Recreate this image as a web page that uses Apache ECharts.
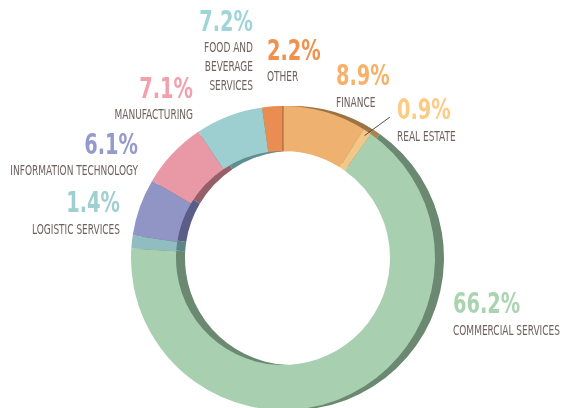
<!DOCTYPE html>
<html>
<head>
<meta charset="utf-8">
<script src="https://cdn.jsdelivr.net/npm/echarts@6/dist/echarts.min.js"></script>
<style>html,body{margin:0;padding:0;background:#fff}#c{width:564px;height:408px}</style>
</head>
<body>
<div id="c"></div>
<script>
// ---- data ----
const categories = ['FINANCE', 'REAL ESTATE', 'COMMERCIAL SERVICES', 'LOGISTIC SERVICES', 'INFORMATION TECHNOLOGY', 'MANUFACTURING', 'FOOD AND\nBEVERAGE\nSERVICES', 'OTHER'];
const values = [8.9, 0.9, 66.2, 1.4, 6.1, 7.1, 7.2, 2.2];

// ---- styles ----
const sliceColors = ['#EFB16F', '#F2C888', '#A8CFAF', '#90BEC0', '#9095C5', '#E899A5', '#9DCFD0', '#EA8D53'];
const shadowColors = ['#9C7345', '#A8844F', '#6A8970', '#5C8686', '#5A5E86', '#955F69', '#5E8E90', '#A0603A'];
const pctColors = ['#F6B26B', '#FDCB85', '#A9D4B0', '#9FCFCF', '#949ACB', '#F2A0AD', '#A0D5D8', '#F0914F'];
// label anchors: [x, y(centre of percent caps), align]
const labelPos = [[336, 77, 'left'], [397, 111, 'left'], [453, 305, 'left'], [120, 204, 'right'], [138, 145.5, 'right'], [193, 89.5, 'right'], [253, 22.5, 'right'], [267, 51.5, 'left']];

const CX = 283, CY = 258, R0 = 107, R1 = 152, SHIFT = 9;
const textColor = '#6E625E';
const narrow = "'DejaVu Sans Condensed', sans-serif";
const PCT_SCALE = 0.77, LBL_SCALE = 0.69, LINE_H = 19;

const chart = echarts.init(document.getElementById('c'), null, {renderer: 'canvas'});

const total = values.reduce((a, b) => a + b, 0);
function angleAt(idx, frac) {
  let cum = 0;
  for (let i = 0; i < idx; i++) cum += values[i];
  cum += values[idx] * frac;
  return (90 - cum / total * 360) * Math.PI / 180;
}
function polar(a, r) { return [CX + r * Math.cos(a), CY - r * Math.sin(a)]; }

const graphics = [];
categories.forEach((name, i) => {
  const [x, y, align] = labelPos[i];
  const nLines = name.split('\n').length;
  graphics.push({
    type: 'text', x: x, y: y + 1, z: 10, scaleX: PCT_SCALE,
    style: {text: values[i].toFixed(1) + '%', x: 0, y: 0, textAlign: align, textVerticalAlign: 'middle',
      fill: pctColors[i], font: 'bold 28px ' + narrow}
  });
  graphics.push({
    type: 'text', x: x, y: y + 26 + (nLines - 1) * LINE_H / 2, z: 10, scaleX: LBL_SCALE,
    style: {text: name, x: 0, y: 0, textAlign: align, textVerticalAlign: 'middle',
      fill: textColor, font: '14.5px ' + narrow, lineHeight: LINE_H}
  });
});
// leader line to real estate slice
const reMid = polar(angleAt(1, 0.5), 147);
graphics.push({type: 'line', z: 10, shape: {x1: 390, y1: 117, x2: reMid[0], y2: reMid[1]}, style: {stroke: '#5A4A44', lineWidth: 1}});
// seam at start of finance
const s0 = polar(angleAt(0, 0), R0), s1 = polar(angleAt(0, 0), R1);
graphics.push({type: 'line', z: 10, shape: {x1: s0[0], y1: s0[1], x2: s1[0], y2: s1[1]}, style: {stroke: '#8A6540', lineWidth: 1}});

const mk = (colors) => categories.map((n, i) => ({name: n, value: values[i], itemStyle: {color: colors[i]}}));

chart.setOption({
  animation: false,
  backgroundColor: '#fff',
  series: [
    {type: 'pie', silent: true, z: 1, center: [CX + SHIFT, CY], radius: [R0, R1], startAngle: 90, clockwise: true,
      label: {show: false}, labelLine: {show: false}, data: mk(shadowColors)},
    {type: 'pie', silent: true, z: 2, center: [CX, CY], radius: [R0, R1], startAngle: 90, clockwise: true,
      label: {show: false}, labelLine: {show: false}, data: mk(sliceColors)}
  ],
  graphic: graphics
});
</script>
</body>
</html>
